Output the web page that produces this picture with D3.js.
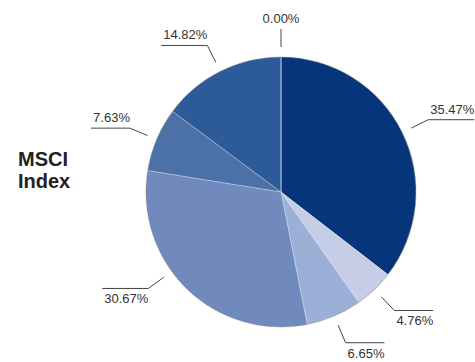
<!DOCTYPE html>
<html lang="en">
<meta charset="utf-8">

<head>
    <style>
        body {
            margin: 0;
            background: #fff;
            font-family: "Liberation Sans", Arial, sans-serif;
        }
    </style>
    <script src="https://d3js.org/d3.v7.min.js"></script>
</head>

<body>
</body>
<script>
    // chart data
    var labels = ["35.47%", "4.76%", "6.65%", "30.67%", "7.63%", "14.82%", "0.00%"];
    var values = [35.47, 4.76, 6.65, 30.67, 7.63, 14.82, 0.00];
    var colours = ["#06357b", "#c6cee7", "#9bafd7", "#718abe", "#4b71a8", "#2d5b99", "#2d5b99"];
    // label layout tweak (degrees), keeps 30.67% off the lower edge like the original
    var labelNudge = [0, 0, 0, 10, 0, 0, 0];

    var width = 475, height = 362;
    var cx = 281, cy = 192, radius = 135;

    var svg = d3.select("body").append("svg")
        .attr("width", width)
        .attr("height", height);

    // title on the left
    var title = svg.append("text")
        .attr("x", 18)
        .attr("font-size", "20px")
        .attr("font-weight", "bold")
        .attr("fill", "#222");
    title.append("tspan").attr("x", 18).attr("y", 166).text("MSCI");
    title.append("tspan").attr("x", 18).attr("y", 188).text("Index");

    var pie = d3.pie().sort(null).value(function (d) { return d; });
    var arcs = pie(values);
    var arc = d3.arc().innerRadius(0).outerRadius(radius);

    var g = svg.append("g").attr("transform", "translate(" + cx + "," + cy + ")");

    g.selectAll("path.slice")
        .data(arcs)
        .enter()
        .append("path")
        .attr("class", "slice")
        .attr("d", arc)
        .attr("fill", function (d, i) { return colours[i]; })
        .attr("stroke", "rgba(255,255,255,0.35)")
        .attr("stroke-width", 0.8);

    // soft edge like the original
    g.append("circle")
        .attr("r", radius)
        .attr("fill", "none")
        .attr("stroke", "rgba(0,0,0,0.18)")
        .attr("stroke-width", 1.2);

    // labels with leader lines
    var startArc = d3.arc().innerRadius(145).outerRadius(145);
    var elbowArc = d3.arc().innerRadius(164).outerRadius(164);

    arcs.forEach(function (d, i) {
        var mid = (d.startAngle + d.endAngle) / 2 + labelNudge[i] * Math.PI / 180;
        var a = { startAngle: mid, endAngle: mid };
        var p0 = startArc.centroid(a);
        var p1 = elbowArc.centroid(a);

        var t = g.append("text")
            .attr("font-size", "13px")
            .attr("fill", "#333")
            .text(labels[i]);

        if (d.value === 0) {
            // straight tick at the top
            var top = [p0[0], p0[1] - 18];
            g.append("line")
                .attr("x1", p0[0]).attr("y1", p0[1])
                .attr("x2", top[0]).attr("y2", top[1])
                .attr("stroke", "#444").attr("stroke-width", 1);
            t.attr("x", top[0]).attr("y", top[1] - 6).attr("text-anchor", "middle");
            return;
        }

        var tw = t.node().getComputedTextLength() + 2;
        var right = p1[0] > 0;
        var p2 = [right ? p1[0] + tw : p1[0] - tw, p1[1]];

        g.append("polyline")
            .attr("points", [p0, p1, p2].map(function (p) { return p.join(","); }).join(" "))
            .attr("fill", "none")
            .attr("stroke", "#444")
            .attr("stroke-width", 1);

        t.attr("x", right ? p1[0] + 2 : p1[0])
            .attr("y", p1[1] > 0 ? p1[1] + 15 : p1[1] - 6)
            .attr("text-anchor", right ? "start" : "end");
    });
</script>

</html>
